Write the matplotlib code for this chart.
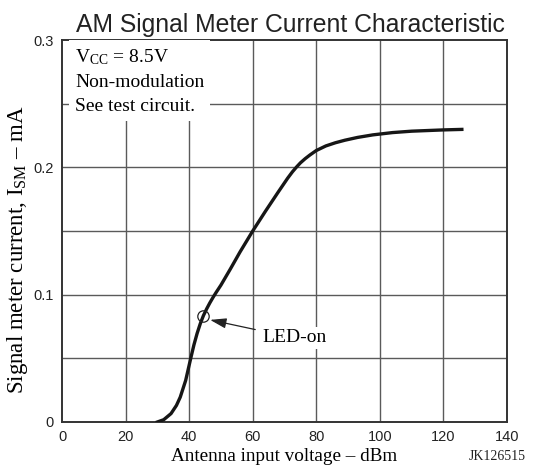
import matplotlib
matplotlib.use('Agg')
import matplotlib.pyplot as plt

# Curve
antenna_dbm = [30, 32, 34.3, 36, 37.2, 38.9, 40.5, 41.5, 42.5, 43.5, 44.5, 45.5, 46.5, 47.5,
               48.5, 50, 53, 56, 60, 64, 68, 71, 72.5, 73.8, 75, 76.5, 78, 80, 83, 86, 89, 93,
               97.8, 104, 110, 116, 120, 125.8]
ism_ma = [0, 0.0018, 0.0066, 0.013, 0.0195, 0.0326, 0.05, 0.0605, 0.0695, 0.0772, 0.0836,
          0.0888, 0.0935, 0.0978, 0.1018, 0.1075, 0.1203, 0.1335, 0.15, 0.1655, 0.1805, 0.1915,
          0.1965, 0.2003, 0.2035, 0.2068, 0.2097, 0.2132, 0.2168, 0.2193, 0.2213, 0.2235,
          0.2255, 0.2273, 0.2284, 0.229, 0.2294, 0.2298]
led_on = (44.5, 0.0836)

x_ticks = [0, 20, 40, 60, 80, 100, 120, 140]
y_ticks = [0, 0.1, 0.2, 0.3]
y_ticklabels = ['0', '0.1', '0.2', '0.3']
x_grid = [20, 40, 60, 80, 100, 120]
y_grid = [0.05, 0.1, 0.15, 0.2, 0.25]

serif = 'Liberation Serif'
sans = 'Liberation Sans'
plt.rcParams['mathtext.fontset'] = 'stix'

fig = plt.figure(figsize=(5.42, 4.68), dpi=100)
ax = fig.add_axes([0.1144, 0.0983, 0.821, 0.8162])

for gx in x_grid:
	ax.axvline(gx, color='#5a5a5a', lw=1.0, zorder=1)
for gy in y_grid:
	ax.axhline(gy, color='#5a5a5a', lw=1.0, zorder=1)

ax.plot(antenna_dbm, ism_ma, color='#161616', lw=2.4, solid_joinstyle='round', zorder=3)
ax.plot([led_on[0]], [led_on[1]], 'o', ms=8.2, mfc='none', mec='#222222', mew=0.9, zorder=4)

ax.annotate('LED-on', xy=(46.6, 0.0802), xytext=(63, 0.066), fontsize=14, family=serif,
            va='center', ha='left', zorder=5,
            bbox=dict(boxstyle='square,pad=0.15', fc='white', ec='none'),
            arrowprops=dict(arrowstyle='-|>,head_length=0.7,head_width=0.22', color='#222222',
                            lw=0.9, shrinkA=3, shrinkB=0))

ax.text(4.1, 0.2945, '$\\mathregular{V_{CC}}$ = 8.5V\nNon-modulation\nSee test circuit.',
        fontsize=14, family=serif, va='top', ha='left', linespacing=1.55, zorder=5,
        bbox=dict(boxstyle='square,pad=0.3', fc='white', ec='none'))

ax.set_xlim(0, 140)
ax.set_ylim(0, 0.3)
ax.set_xticks(x_ticks)
ax.set_yticks(y_ticks)
ax.set_yticklabels(y_ticklabels)
ax.tick_params(length=0, pad=6, labelsize=10.5)
for lab in ax.get_xticklabels() + ax.get_yticklabels():
	lab.set_family(sans)
	lab.set_color('#222222')
for sp in ax.spines.values():
	sp.set_color('#333333')
	sp.set_linewidth(1.4)

ax.set_title('AM Signal Meter Current Characteristic', family=sans, fontsize=17.8,
             color='#222222', pad=6, x=0.513)
ax.set_xlabel('Antenna input voltage \u2013 dBm', family=serif, fontsize=13.8, labelpad=3)
ax.set_ylabel('Signal meter current, $\\mathregular{I_{SM}}$ \u2013 mA', family=serif,
              fontsize=16.5)
ax.yaxis.set_label_coords(-0.073, 0.45)

fig.text(0.97, 0.025, 'JK126515', family=serif, fontsize=10, ha='right', va='center',
         color='#222222')

fig.savefig('out.png', dpi=100)
